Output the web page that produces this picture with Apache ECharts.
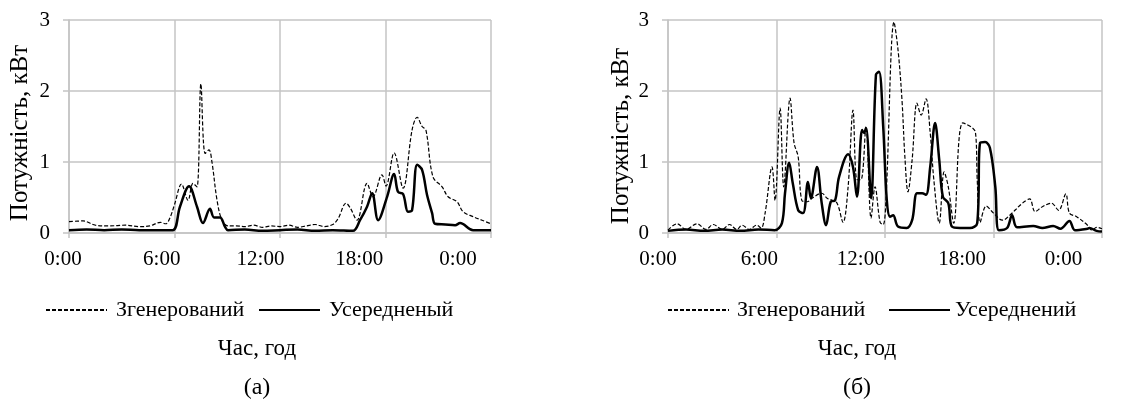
<!DOCTYPE html>
<html>
<head>
<meta charset="utf-8">
<script src="https://cdn.jsdelivr.net/npm/echarts@6/dist/echarts.min.js"></script>
<style>
  html, body { margin: 0; padding: 0; background: #fff; }
  #chart { width: 1126px; height: 401px; }
</style>
</head>
<body>
<div id="chart"></div>
<script>
  // (а) - ліва діаграма
  var hoursGenA = [0, 0.8, 1.5, 2.3, 3.2, 4.0, 4.6, 5.2, 5.5, 5.75, 6.0, 6.4, 6.77, 7.05, 7.28, 7.5, 7.74, 7.96, 8.13, 8.42,
    8.7, 9.04, 9.5, 10, 10.5, 11, 11.5, 12, 12.5, 13, 13.5, 14, 14.5, 15, 15.3, 15.76, 16.0, 16.38, 16.95, 17.29,
    17.8, 18.03, 18.49, 19.0, 19.51, 19.8, 20.08, 20.3, 20.7, 21.22, 21.56, 22.07, 22.41, 22.98, 23.49, 24];
  var genA = [0.16, 0.17, 0.11, 0.1, 0.11, 0.09, 0.1, 0.15, 0.13, 0.22, 0.4, 0.69, 0.46, 0.7, 0.65, 2.1, 1.12, 1.17, 1.0, 0.46,
    0.18, 0.1, 0.1, 0.09, 0.11, 0.08, 0.1, 0.09, 0.11, 0.08, 0.1, 0.12, 0.09, 0.12, 0.2, 0.42, 0.35, 0.18, 0.7, 0.51,
    0.82, 0.66, 1.13, 0.63, 1.45, 1.63, 1.5, 1.45, 0.79, 0.65, 0.51, 0.44, 0.3, 0.23, 0.18, 0.13];

  var hoursAvgA = [0, 1, 2, 3, 4, 5, 5.9, 6.31, 6.83, 7.28, 7.62, 8.02, 8.25, 8.59, 8.87, 9.04, 10, 11, 12, 13, 14, 15,
    16.15, 16.55, 16.95, 17.24, 17.58, 18.09, 18.49, 18.71, 19.0, 19.28, 19.51, 19.8, 20.08, 20.36, 20.65, 20.82,
    21.4, 21.96, 22.24, 22.98, 24];
  var avgA = [0.04, 0.05, 0.04, 0.05, 0.04, 0.04, 0.04, 0.37, 0.66, 0.37, 0.14, 0.34, 0.22, 0.22, 0.09, 0.04, 0.05, 0.03, 0.04, 0.05, 0.03, 0.04,
    0.03, 0.18, 0.37, 0.56, 0.18, 0.51, 0.83, 0.58, 0.55, 0.3, 0.32, 0.96, 0.89, 0.54, 0.28, 0.13,
    0.12, 0.11, 0.14, 0.04, 0.04];

  // (б) - права діаграма
  var hoursGenB = [0, 0.5, 1.0, 1.6, 2.1, 2.5, 3.0, 3.4, 3.8, 4.1, 4.5, 4.9, 5.15, 5.37, 5.75, 5.92, 6.2, 6.4, 6.75, 6.97,
    7.2, 7.4, 7.7, 7.96, 8.5, 8.8, 9.07, 9.35, 9.68, 9.96, 10.23, 10.45, 10.67, 10.95, 11.23, 11.45, 11.73, 11.9, 12.05, 12.5,
    12.72, 12.94, 13.1, 13.27, 13.5, 13.77, 14.0, 14.27, 14.5, 14.7, 15.0, 15.27, 15.5, 15.8, 16.3, 17.0, 17.1, 17.26, 17.6, 18.0,
    18.5, 18.9, 19.6, 20.0, 20.3, 20.7, 21.2, 21.6, 22.0, 22.2, 22.6, 23.2, 23.45, 23.7, 24];
  var genB = [0.04, 0.13, 0.05, 0.13, 0.05, 0.12, 0.05, 0.12, 0.05, 0.11, 0.05, 0.11, 0.07, 0.28, 0.93, 0.46, 1.76, 0.65, 1.9, 1.27,
    1.07, 0.46, 0.44, 0.49, 0.56, 0.49, 0.46, 0.42, 0.15, 0.65, 1.73, 0.75, 0.75, 1.5, 0.21, 0.65, 0.15, 0.12, 0.45, 2.97,
    2.58, 1.87, 1.07, 0.58, 1.03, 1.83, 1.66, 1.89, 1.41, 0.75, 0.14, 0.86, 0.65, 0.14, 1.55, 1.42, 0.75, 0.15, 0.38, 0.28,
    0.18, 0.25, 0.42, 0.48, 0.3, 0.37, 0.42, 0.32, 0.55, 0.28, 0.23, 0.11, 0.04, 0.08, 0.06];

  var hoursAvgB = [0, 1, 2, 3, 4, 5, 5.9, 6.3, 6.47, 6.7, 6.9, 7.2, 7.47, 7.74, 7.9, 8.24, 8.5, 8.74, 9.0, 9.24,
    9.46, 9.96, 10.23, 10.45, 10.73, 10.84, 10.95, 11.23, 11.5, 11.67, 11.9, 12.1, 12.28, 12.45, 12.72, 13.2, 13.5, 13.77, 14.05, 14.27,
    14.5, 14.77, 15.0, 15.2, 15.5, 15.7, 16.15, 16.7, 17.1, 17.26, 17.53, 17.8, 18.1, 18.3, 18.75, 19.03, 19.3, 20.2, 20.7, 21.3,
    21.7, 22.2, 22.5, 23.2, 23.3, 23.7, 24];
  var avgB = [0.03, 0.05, 0.03, 0.05, 0.03, 0.05, 0.04, 0.14, 0.56, 0.99, 0.7, 0.32, 0.28, 0.72, 0.49, 0.93, 0.42, 0.11, 0.44, 0.46,
    0.79, 1.11, 0.93, 0.51, 1.45, 1.41, 1.48, 0.49, 2.23, 2.27, 1.5, 0.46, 0.23, 0.25, 0.09, 0.07, 0.18, 0.56, 0.56, 0.54,
    0.93, 1.55, 1.03, 0.51, 0.42, 0.09, 0.07, 0.07, 0.14, 1.27, 1.28, 1.2, 0.65, 0.04, 0.07, 0.25, 0.08, 0.1, 0.07, 0.1,
    0.06, 0.17, 0.04, 0.06, 0.07, 0.03, 0.02];

  var hourTicks = [0, 6, 12, 18, 24];
  var powerTicks = [0, 1, 2, 3];

  var FONT = 'Liberation Serif, Times New Roman, serif';
  var GRID_COLOR = '#c4c4c4';

  function pairs(h, v) {
    return h.map(function (x, i) { return [x, v[i]]; });
  }

  function hourLabel(v) {
    return (v % 24) + ':00';
  }

  function plotX(gridIndex) {
    return {
      gridIndex: gridIndex,
      type: 'value',
      min: hourTicks[0],
      max: hourTicks[hourTicks.length - 1],
      interval: 6,
      axisLine: { show: true, lineStyle: { color: GRID_COLOR, width: 1.5 } },
      axisTick: { show: true, length: 5, lineStyle: { color: GRID_COLOR, width: 1.5 } },
      axisLabel: { show: false },
      splitLine: { show: true, lineStyle: { color: GRID_COLOR, width: 1.5 } }
    };
  }

  // підписи годин стоять трохи лівіше від сітки, як на оригіналі
  function labelX(gridIndex) {
    return {
      gridIndex: gridIndex,
      type: 'value',
      min: hourTicks[0],
      max: hourTicks[hourTicks.length - 1],
      interval: 6,
      axisLine: { show: false },
      axisTick: { show: false },
      splitLine: { show: false },
      axisLabel: { show: true, margin: 16, formatter: hourLabel, color: '#000', fontFamily: FONT, fontSize: 21 }
    };
  }

  function plotY(gridIndex) {
    return {
      gridIndex: gridIndex,
      type: 'value',
      min: powerTicks[0],
      max: powerTicks[powerTicks.length - 1],
      interval: 1,
      axisLine: { show: true, lineStyle: { color: GRID_COLOR, width: 1.5 } },
      axisTick: { show: true, length: 6, lineStyle: { color: GRID_COLOR, width: 1.5 } },
      axisLabel: { show: true, margin: 19, color: '#000', fontFamily: FONT, fontSize: 21 },
      splitLine: { show: true, lineStyle: { color: GRID_COLOR, width: 1.5 } }
    };
  }

  function hiddenY(gridIndex) {
    return { gridIndex: gridIndex, type: 'value', min: 0, max: 3, show: false };
  }

  function genSeries(name, idx, data) {
    return {
      name: name, type: 'line', xAxisIndex: idx, yAxisIndex: idx,
      data: data, smooth: 0.35, symbol: 'none', z: 2,
      lineStyle: { color: '#000', width: 1.2, type: [4, 2] },
      itemStyle: { color: '#000' }
    };
  }

  function avgSeries(name, idx, data) {
    return {
      name: name, type: 'line', xAxisIndex: idx, yAxisIndex: idx,
      data: data, smooth: 0.35, symbol: 'none', z: 3,
      lineStyle: { color: '#000', width: 2.5 },
      itemStyle: { color: '#000' }
    };
  }

  function legendAt(name, left, padLeft) {
    return {
      data: [name], left: left, top: 299, padding: 0, itemWidth: 61, itemHeight: 14,
      itemStyle: { opacity: 0 },
      textStyle: { color: '#000', fontFamily: FONT, fontSize: 22, padding: [0, 0, 0, padLeft] }
    };
  }

  function caption(text, x, y, size, rot) {
    return {
      type: 'text', x: x, y: y, rotation: rot || 0,
      style: { text: text, fill: '#000', font: size + 'px ' + FONT, align: 'center', verticalAlign: 'middle' }
    };
  }

  var chart = echarts.init(document.getElementById('chart'), null, { renderer: 'canvas' });
  chart.setOption({
    animation: false,
    backgroundColor: '#fff',
    grid: [
      { left: 69, top: 20, width: 422, height: 213 },
      { left: 668, top: 20, width: 434, height: 213 },
      { left: 63, top: 20, width: 395, height: 213 },
      { left: 658, top: 20, width: 405.5, height: 213 }
    ],
    xAxis: [plotX(0), plotX(1), labelX(2), labelX(3)],
    yAxis: [plotY(0), plotY(1), hiddenY(2), hiddenY(3)],
    legend: [
      legendAt('Згенерований', 45, 4),
      legendAt('Усередненый', 258, 4),
      legendAt('Згенерований', 667, 3),
      legendAt('Усереднений', 888, 0)
    ],
    series: [
      genSeries('Згенерований', 0, pairs(hoursGenA, genA)),
      avgSeries('Усередненый', 0, pairs(hoursAvgA, avgA)),
      genSeries('Згенерований', 1, pairs(hoursGenB, genB)),
      avgSeries('Усереднений', 1, pairs(hoursAvgB, avgB))
    ],
    graphic: [
      caption('Потужність, кВт', 20, 133, 25, Math.PI / 2),
      caption('Потужність, кВт', 621, 136, 25, Math.PI / 2),
      caption('Час, год', 257, 349, 23),
      caption('Час, год', 857, 349, 23),
      caption('(а)', 257, 388, 24),
      caption('(б)', 857, 388, 24)
    ]
  });
</script>
</body>
</html>
